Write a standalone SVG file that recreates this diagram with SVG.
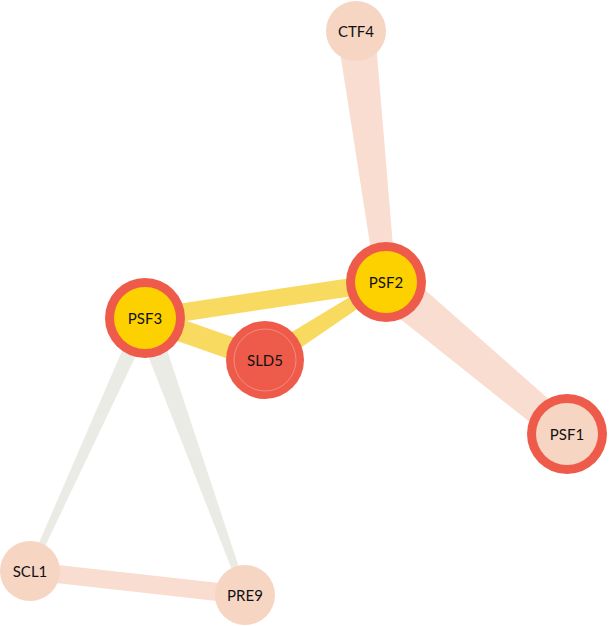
<svg xmlns="http://www.w3.org/2000/svg" width="609" height="626" viewBox="0 0 609 626">
<style>
.pe{fill:#F8DDD0}.ye{fill:#F9DA60}.ge{fill:#EBEBE6}
.ring{fill:#EF5B4B}.yel{fill:#FDD100}.pch{fill:#F6D5C3}
text{font-family:Lato,"Open Sans",sans-serif;font-size:15px;fill:#111;text-anchor:middle;dominant-baseline:central}
</style>
<rect width="609" height="626" fill="#fff"/>
<g id="edges">
<polygon class="pe" points="374.9,28.7 395.9,280.8 376.1,283.2 337.1,33.3"/>
<polygon class="pe" points="398.9,266.7 576,423.3 558,444.7 373.1,297.3"/>
<line x1="30" y1="571" x2="245" y2="595" stroke="#F8DDD0" stroke-width="18"/>
<polygon class="ge" points="152.3,321.3 32.7,572.2 27.3,569.8 137.7,314.7"/>
<polygon class="ge" points="155.3,314.3 247.8,594 242.2,596 134.7,321.7"/>
<line x1="145" y1="318" x2="386" y2="282" stroke="#F9DA60" stroke-width="18"/>
<line x1="145" y1="318" x2="265" y2="360" stroke="#F9DA60" stroke-width="22"/>
<polygon class="ye" points="270.4,368.4 389.3,287 382.7,277 259.6,351.6"/>
</g>
<g id="CTF4"><circle class="pch" cx="356" cy="31" r="30"/><text x="356" y="31">CTF4</text></g>
<g id="PSF2"><circle class="ring" cx="386" cy="282" r="40"/><circle class="yel" cx="386" cy="282" r="31"/><text x="386" y="282">PSF2</text></g>
<g id="PSF3"><circle class="ring" cx="145" cy="318" r="40"/><circle class="yel" cx="145" cy="318" r="31"/><text x="145" y="318">PSF3</text></g>
<g id="SLD5"><circle class="ring" cx="265" cy="360" r="39"/><circle cx="265" cy="360" r="31" fill="none" stroke="#F6A89E" stroke-width="0.6"/><text x="265" y="360">SLD5</text></g>
<g id="PSF1"><circle class="ring" cx="567" cy="434" r="40"/><circle class="pch" cx="567" cy="434" r="31"/><text x="567" y="434">PSF1</text></g>
<g id="SCL1"><circle class="pch" cx="30" cy="571" r="30"/><text x="30" y="571">SCL1</text></g>
<g id="PRE9"><circle class="pch" cx="245" cy="595" r="30"/><text x="245" y="595">PRE9</text></g>
</svg>
